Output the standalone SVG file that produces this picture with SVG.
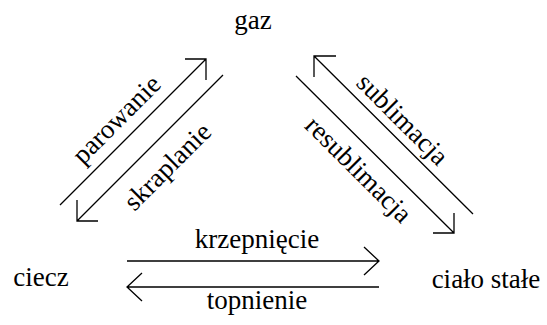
<svg xmlns="http://www.w3.org/2000/svg" width="547" height="325" viewBox="0 0 547 325">
  <style>
    .lbl { font-family: 'Liberation Serif', 'DejaVu Serif', 'Times New Roman', Times, serif; font-size: 27px; fill: #000; text-anchor: middle; }
    .ln { fill: none; stroke: #000; stroke-width: 1.3; }
  </style>
  <rect width="547" height="325" fill="#fff"/>

  <!-- states -->
  <g id="node-gaz"><text class="lbl" x="253" y="29">gaz</text></g>
  <g id="node-ciecz"><text class="lbl" x="41" y="286">ciecz</text></g>
  <g id="node-cialo-stale"><text class="lbl" x="486" y="288">ciało stałe</text></g>

  <!-- transitions -->
  <g id="connectors">
    <!-- ciecz -> gaz -->
    <path class="ln" d="M60,205 L206,59 M185,59 H206 V80"/>
    <!-- gaz -> ciecz -->
    <path class="ln" d="M223,75 L77,221 M77,200 V221 H98"/>
    <!-- cialo stale -> gaz -->
    <path class="ln" d="M473,214 L314,56 M314,77 V56 H336"/>
    <!-- gaz -> cialo stale -->
    <path class="ln" d="M296,76 L454,233 M433,233 H454 V213"/>
    <!-- ciecz -> cialo stale -->
    <path class="ln" d="M127,261 H379 M364,247 L379,261 L364,275"/>
    <!-- cialo stale -> ciecz -->
    <path class="ln" d="M379,287 H127 M142,273 L127,287 L142,301"/>

    <g transform="translate(117,120) rotate(-45)"><text class="lbl" x="0" y="8">parowanie</text></g>
    <g transform="translate(168,167) rotate(-45)"><text class="lbl" x="0" y="8">skraplanie</text></g>
    <g transform="translate(402,120) rotate(45)"><text class="lbl" x="0" y="8">sublimacja</text></g>
    <g transform="translate(358,170) rotate(45)"><text class="lbl" x="0" y="8">resublimacja</text></g>
    <text class="lbl" x="257" y="248">krzepnięcie</text>
    <text class="lbl" x="257" y="309">topnienie</text>
  </g>
</svg>
